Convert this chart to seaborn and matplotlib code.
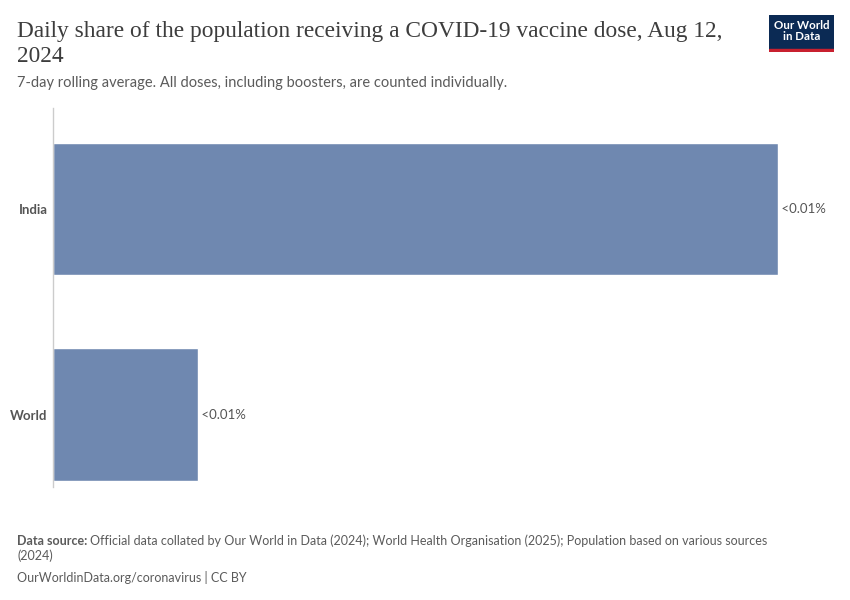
import matplotlib
matplotlib.use("Agg")
import matplotlib.pyplot as plt
import seaborn as sns
import pandas as pd
from matplotlib.patches import Rectangle

# data (both labelled "<0.01%")
countries = ["India", "World"]
share = [0.0050, 0.0010]
value_labels = ["<0.01%", "<0.01%"]

df = pd.DataFrame({"country": countries, "share": share})

sns.set_theme(style="white")
plt.rcParams["font.family"] = ["Lato", "DejaVu Sans"]

fig = plt.figure(figsize=(8.5, 6), dpi=100)
W, H = 850, 600
ax = fig.add_axes([53 / W, 1 - 487 / H, (778 - 53) / W, (487 - 108) / H])

sns.barplot(data=df, x="share", y="country", orient="h", color="#6f88b0",
            saturation=1, width=0.645, ax=ax)

ax.set_xlim(0, max(share))
ax.set_ylim(1.35, -0.49)
for s in ["top", "right", "bottom"]:
    ax.spines[s].set_visible(False)
ax.spines["left"].set_color("#cccccc")
ax.spines["left"].set_linewidth(1)
ax.set_xticks([])
ax.set_xlabel("")
ax.set_ylabel("")
ax.tick_params(axis="y", length=0, pad=4)
for t in ax.get_yticklabels():
    t.set_fontsize(9.5)
    t.set_fontweight("bold")
    t.set_color("#555555")

for i, (v, lab) in enumerate(zip(share, value_labels)):
    ax.text(v, i, " " + lab, va="center", ha="left", fontsize=9.5,
            color="#555555", clip_on=False)

title_font = ["Liberation Serif", "DejaVu Serif"]
fig.text(17 / W, 1 - 31 / H, "Daily share of the population receiving a COVID-19 vaccine dose, Aug 12,",
         family=title_font, fontsize=16.8, color="#3d3d3d", va="center")
fig.text(17 / W, 1 - 57 / H, "2024",
         family=title_font, fontsize=16.8, color="#3d3d3d", va="center")
fig.text(17 / W, 1 - 83 / H, "7-day rolling average. All doses, including boosters, are counted individually.",
         fontsize=10.5, color="#5b5b5b", va="center")

# logo
logo = fig.add_axes([769 / W, 1 - 52 / H, (834 - 769) / W, (52 - 15) / H])
logo.set_xlim(0, 1)
logo.set_ylim(0, 1)
logo.axis("off")
logo.add_patch(Rectangle((0, 0.08), 1, 0.92, color="#0b2a54"))
logo.add_patch(Rectangle((0, 0), 1, 0.08, color="#c8202f"))
logo.text(0.5, 0.56, "Our World\nin Data", ha="center", va="center", fontsize=8.3,
          color="white", fontweight="bold", linespacing=1.0)

# footer
src = fig.text(17 / W, 1 - 541 / H, "Data source:", fontsize=9, color="#5b5b5b",
               va="center", fontweight="bold")
fig.canvas.draw()
bb = src.get_window_extent()
fig.text(bb.x1 / W + 3 / W, 1 - 541 / H,
         "Official data collated by Our World in Data (2024); World Health Organisation (2025); Population based on various sources",
         fontsize=9, color="#5b5b5b", va="center")
fig.text(17 / W, 1 - 556 / H, "(2024)", fontsize=9, color="#5b5b5b", va="center")
fig.text(17 / W, 1 - 578 / H, "OurWorldinData.org/coronavirus | CC BY", fontsize=9,
         color="#5b5b5b", va="center")

fig.savefig("out.png", dpi=100)
